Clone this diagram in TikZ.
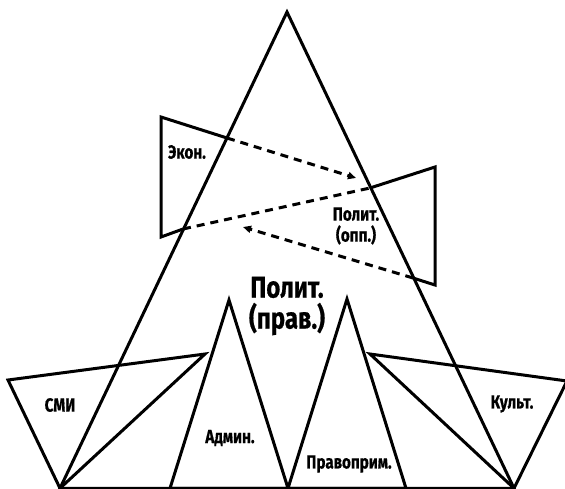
\documentclass[tikz,border=0pt]{standalone}
\usepackage{fontspec}
\newfontfamily\labelfont{Fira Sans}[FakeStretch=0.8,FakeBold=0.6]
\usetikzlibrary{arrows.meta}

\begin{document}
\begin{tikzpicture}[x=1pt,y=-1pt,>={Triangle[length=8pt,width=7pt]},line width=3pt,
    zone/.style={draw,line join=miter},
    link/.style={draw,dash pattern=on 8pt off 6pt},
    small label/.style={font=\labelfont\bfseries\fontsize{19}{21}\selectfont,align=center,inner sep=0pt},
    big label/.style={font=\labelfont\bfseries\fontsize{30}{31}\selectfont,align=center,inner sep=0pt}]
  \useasboundingbox (0,0) rectangle (565,488);

  % main triangle
  \coordinate (top) at (287,12);
  \coordinate (bl) at (60,488.3);
  \coordinate (br) at (514,488.3);
  % econ and opposition
  \coordinate (econ1) at (227,138);
  \coordinate (econ2) at (161,117);
  \coordinate (econ3) at (161,237);
  \coordinate (econ4) at (183,229);
  \coordinate (opp1) at (370,188);
  \coordinate (opp2) at (435,167);
  \coordinate (opp3) at (435,285);
  \coordinate (opp4) at (413,278);
  \coordinate (econtip) at (356,178);
  \coordinate (opptip) at (243,227);
  % lower triangles
  \coordinate (media1) at (8,380);
  \coordinate (media2) at (205,354);
  \coordinate (cult1) at (370,354);
  \coordinate (cult2) at (567,381);
  \coordinate (admtop) at (229,300);
  \coordinate (admleft) at (170,488.3);
  \coordinate (mid) at (288,488.3);
  \coordinate (lawtop) at (347,299);
  \coordinate (lawright) at (406,488.3);

  \path[zone] (top) -- (bl) -- (br) -- cycle;
  \path[zone] (econ1) -- (econ2) -- (econ3) -- (econ4);
  \path[zone] (opp1) -- (opp2) -- (opp3) -- (opp4);
  \path[zone] (media1) -- (media2) -- (bl) -- cycle;
  \path[zone] (cult1) -- (cult2) -- (br) -- cycle;
  \path[zone] (admtop) -- (admleft) -- (mid) -- cycle;
  \path[zone] (lawtop) -- (mid) -- (lawright) -- cycle;

  \path[link,->] (econ1) -- (econtip);
  \path[link] (econ4) -- (opp1);
  \path[link,->] (opp4) -- (opptip);

  \node[small label] (econ) at (187,152) {Экон.};
  \node[small label] (opp) at (356,226) {Полит.\\(опп.)};
  \node[big label] (gov) at (287,306) {Полит.\\(прав.)};
  \node[small label] (media) at (60,405) {СМИ};
  \node[small label] (adm) at (230,438) {Админ.};
  \node[small label] (law) at (349,464) {Правоприм.};
  \node[small label] (cult) at (512,404) {Культ.};
\end{tikzpicture}
\end{document}
